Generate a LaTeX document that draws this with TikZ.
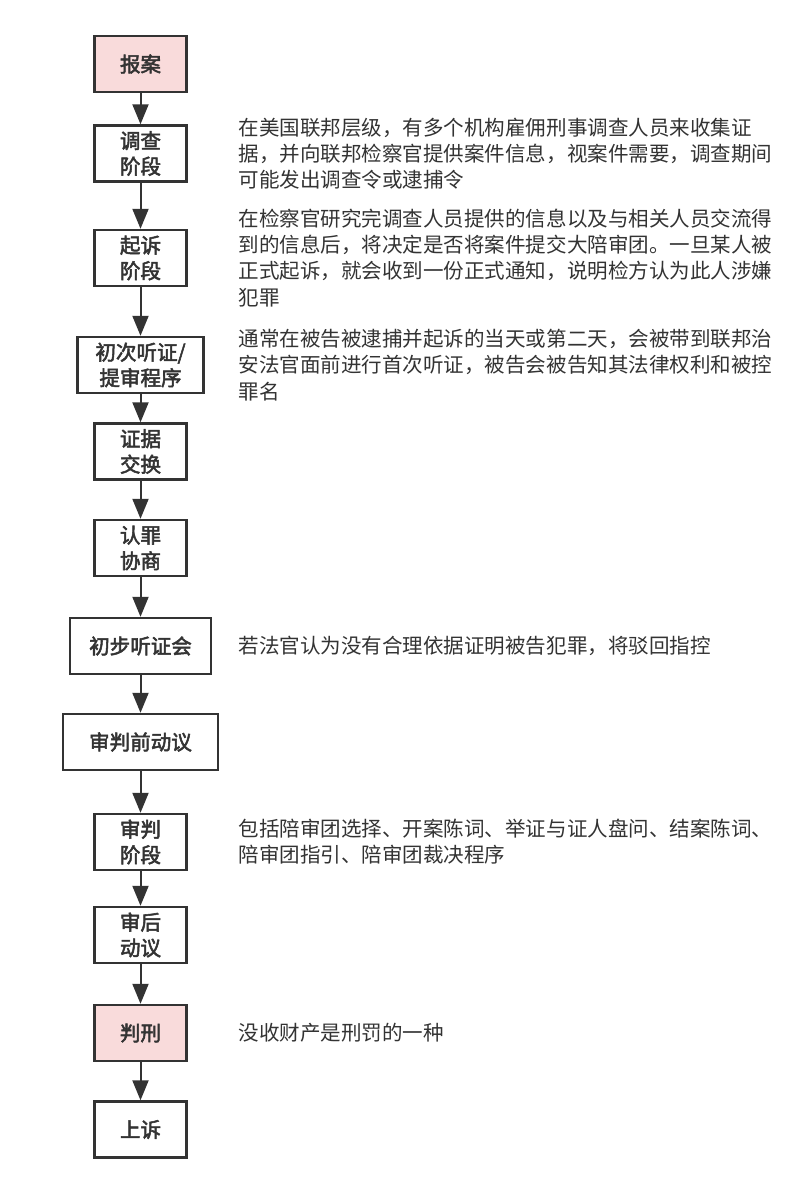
\documentclass[tikz,border=0pt]{standalone}
\usepackage{fontspec}
\newfontfamily\cjk{Noto Sans CJK SC}
\newfontfamily\cjkbox[FakeBold=2.5]{Noto Sans CJK SC}
\usetikzlibrary{arrows.meta}
\definecolor{boxline}{RGB}{51,51,51}
\definecolor{boxpink}{RGB}{249,219,219}
\definecolor{notegray}{RGB}{51,51,51}

\tikzset{every picture/.style={line width=0.75pt}}
\tikzset{
  stepbox/.style={draw=boxline, line width=1.8pt, fill=white, minimum width=69pt, minimum height=42pt, inner sep=0pt, align=center, text=boxline, font=\cjkbox\fontsize{15.4}{19.2}\selectfont},
  keybox/.style={stepbox, fill=boxpink},
  note/.style={anchor=west, align=left, inner sep=0pt, text=notegray, font=\cjk\fontsize{15.4}{19.6}\selectfont},
  flow/.style={draw=boxline, line width=1.5pt, -{Triangle[length=15pt,width=12pt]}},
}

\begin{document}
\begin{tikzpicture}[x=0.75pt,y=0.75pt,yscale=-1,xscale=1]
\useasboundingbox (0,0) rectangle (812,1198);

%Shape: Rectangle [report]
\node [keybox] (s1) at (140.5,64) {报案};
%Shape: Rectangle [investigation]
\node [stepbox] (s2) at (140.5,153.5) {调查\\阶段};
%Shape: Rectangle [indictment]
\node [stepbox] (s3) at (140.5,258) {起诉\\阶段};
%Shape: Rectangle [hearing]
\node [stepbox, minimum width=94.5pt] (s4) at (140.5,365) {初次听证/\\提审程序};
%Shape: Rectangle [discovery]
\node [stepbox] (s5) at (140.5,451.5) {证据\\交换};
%Shape: Rectangle [plea]
\node [stepbox] (s6) at (140.5,548) {认罪\\协商};
%Shape: Rectangle [preliminary]
\node [stepbox, minimum width=105.75pt] (s7) at (140.5,646) {初步听证会};
%Shape: Rectangle [motions]
\node [stepbox, minimum width=116.25pt] (s8) at (140.5,742) {审判前动议};
%Shape: Rectangle [trial]
\node [stepbox] (s9) at (140.5,842) {审判\\阶段};
%Shape: Rectangle [posttrial]
\node [stepbox] (s10) at (140.5,935) {审后\\动议};
%Shape: Rectangle [sentence]
\node [keybox] (s11) at (140.5,1033) {判刑};
%Shape: Rectangle [appeal]
\node [stepbox] (s12) at (140.5,1129.5) {上诉};

%Straight Lines
\draw [flow] (s1) -- (s2);
\draw [flow] (s2) -- (s3);
\draw [flow] (s3) -- (s4);
\draw [flow] (s4) -- (s5);
\draw [flow] (s5) -- (s6);
\draw [flow] (s6) -- (s7);
\draw [flow] (s7) -- (s8);
\draw [flow] (s8) -- (s9);
\draw [flow] (s9) -- (s10);
\draw [flow] (s10) -- (s11);
\draw [flow] (s11) -- (s12);

% Text Node
\node [note] (n2) at (238,0 |- s2) {在美国联邦层级，有多个机构雇佣刑事调查人员来收集证\\据，并向联邦检察官提供案件信息，视案件需要，调查期间\\可能发出调查令或逮捕令};
% Text Node
\node [note] (n3) at (238,0 |- s3) {在检察官研究完调查人员提供的信息以及与相关人员交流得\\到的信息后，将决定是否将案件提交大陪审团。一旦某人被\\正式起诉，就会收到一份正式通知，说明检方认为此人涉嫌\\犯罪};
% Text Node
\node [note] (n4) at (238,0 |- s4) {通常在被告被逮捕并起诉的当天或第二天，会被带到联邦治\\安法官面前进行首次听证，被告会被告知其法律权利和被控\\罪名};
% Text Node
\node [note] (n7) at (238,0 |- s7) {若法官认为没有合理依据证明被告犯罪，将驳回指控};
% Text Node
\node [note] (n9) at (238,0 |- s9) {包括陪审团选择、开案陈词、举证与证人盘问、结案陈词、\\陪审团指引、陪审团裁决程序};
% Text Node
\node [note] (n11) at (238,0 |- s11) {没收财产是刑罚的一种};

\end{tikzpicture}
\end{document}
